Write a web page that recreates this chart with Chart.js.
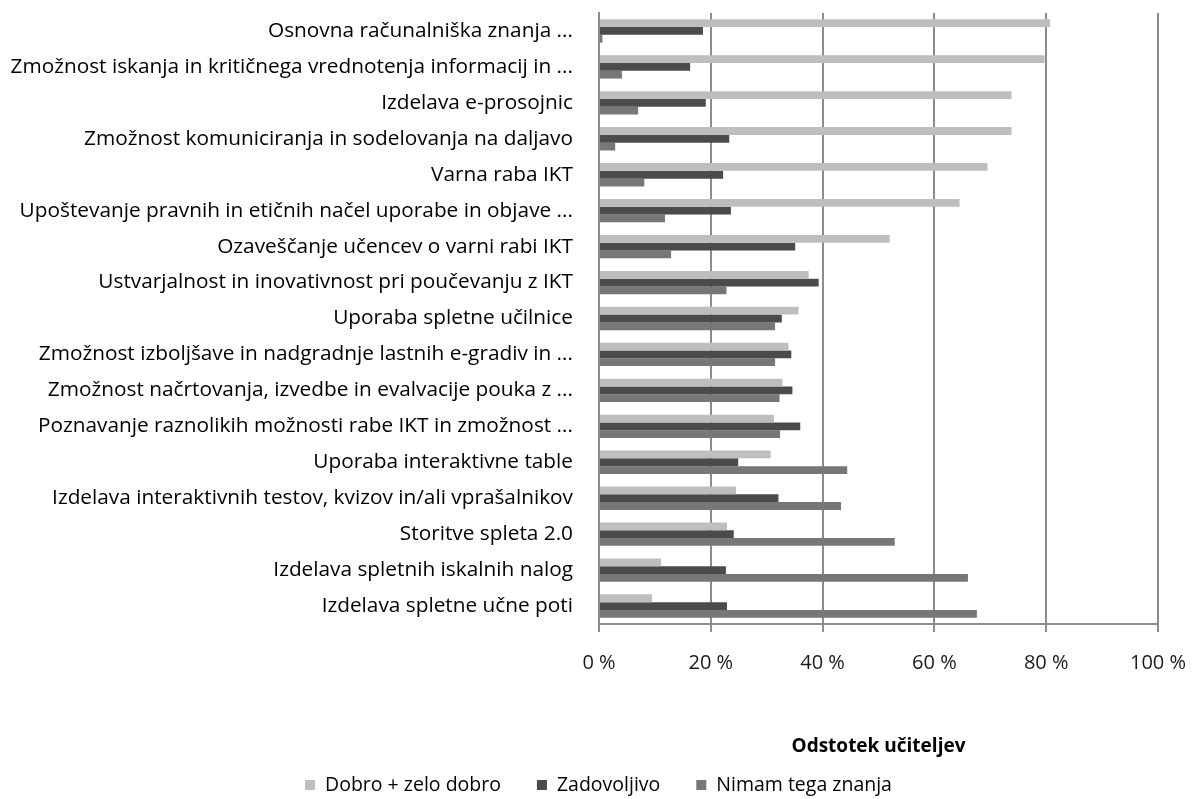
<!DOCTYPE html>
<html>
<head>
<meta charset="utf-8">
<script src="https://cdn.jsdelivr.net/npm/chart.js@4/dist/chart.umd.min.js"></script>
<style>
  html, body { margin: 0; padding: 0; background: #fff; }
  #wrap { width: 1197px; height: 799px; }
</style>
</head>
<body>
<div id="wrap"><canvas id="chart"></canvas></div>
<script>
// kategorije (od zgoraj navzdol)
const categories = [
  'Osnovna računalniška znanja ...',
  'Zmožnost iskanja in kritičnega vrednotenja informacij in ...',
  'Izdelava e-prosojnic',
  'Zmožnost komuniciranja in sodelovanja na daljavo',
  'Varna raba IKT',
  'Upoštevanje pravnih in etičnih načel uporabe in objave ...',
  'Ozaveščanje učencev o varni rabi IKT',
  'Ustvarjalnost in inovativnost pri poučevanju z IKT',
  'Uporaba spletne učilnice',
  'Zmožnost izboljšave in nadgradnje lastnih e-gradiv in ...',
  'Zmožnost načrtovanja, izvedbe in evalvacije pouka z ...',
  'Poznavanje raznolikih možnosti rabe IKT in zmožnost ...',
  'Uporaba interaktivne table',
  'Izdelava interaktivnih testov, kvizov in/ali vprašalnikov',
  'Storitve spleta 2.0',
  'Izdelava spletnih iskalnih nalog',
  'Izdelava spletne učne poti'
];

const seriesNames = ['Dobro + zelo dobro', 'Zadovoljivo', 'Nimam tega znanja'];

// odstotki učiteljev
const dobro = [80.7, 79.7, 73.8, 73.8, 69.5, 64.5, 52.0, 37.5, 35.7, 33.9, 32.8, 31.3, 30.7, 24.5, 22.9, 11.1, 9.5];
const zadovoljivo = [18.6, 16.3, 19.1, 23.3, 22.2, 23.6, 35.1, 39.3, 32.7, 34.4, 34.6, 36.0, 24.9, 32.1, 24.1, 22.7, 22.9];
const nimam = [0.6, 4.1, 7.0, 2.9, 8.1, 11.8, 12.9, 22.8, 31.5, 31.5, 32.3, 32.4, 44.4, 43.3, 52.9, 66.0, 67.6];

const xTicks = [0, 20, 40, 60, 80, 100];

const colors = ['#bebebe', '#4b4b4b', '#777777'];
const gridColor = '#8c8c8c';
const fontFamily = '"Open Sans", "DejaVu Sans", sans-serif';

// legenda v eni vrstici, razmiki kot v Excelu
const rowLegend = {
  id: 'rowLegend',
  afterDraw(chart) {
    const c = chart.ctx;
    const box = 10, gap = 10, itemGap = 36, y = 785;
    c.save();
    c.font = '19.5px ' + fontFamily;
    c.textBaseline = 'middle';
    const items = chart.data.datasets.map(ds => ({
      text: ds.label, color: ds.backgroundColor, w: c.measureText(ds.label).width
    }));
    const total = items.reduce((s, it) => s + box + gap + it.w, 0) + itemGap * (items.length - 1);
    let x = chart.width / 2 - total / 2;
    items.forEach(it => {
      c.fillStyle = it.color;
      c.fillRect(x, y - box / 2, box, box);
      c.fillStyle = '#000';
      c.fillText(it.text, x + box + gap, y);
      x += box + gap + it.w + itemGap;
    });
    c.restore();
  }
};

const ctx = document.getElementById('chart').getContext('2d');
new Chart(ctx, {
  type: 'bar',
  data: {
    labels: categories,
    datasets: [dobro, zadovoljivo, nimam].map((d, i) => ({
      label: seriesNames[i],
      data: d,
      backgroundColor: colors[i],
      borderWidth: 0,
      categoryPercentage: 0.65,
      barPercentage: 1.0
    }))
  },
  options: {
    indexAxis: 'y',
    responsive: true,
    maintainAspectRatio: false,
    animation: false,
    layout: { padding: { top: 13, right: 39, bottom: 34, left: 0 } },
    scales: {
      x: {
        min: 0,
        max: 100,
        afterBuildTicks: (scale) => { scale.ticks = xTicks.map(v => ({ value: v })); },
        afterFit: (scale) => {
          scale.height = 141;
          scale.paddingLeft = 0;
          scale.paddingRight = 0;
        },
        grid: { color: gridColor, lineWidth: 2, tickLength: 8, tickColor: gridColor },
        border: { display: true, color: gridColor, width: 2 },
        ticks: {
          padding: 19,
          color: '#1a1a1a',
          font: { family: fontFamily, size: 20 },
          callback: v => v + ' %'
        },
        title: {
          display: true,
          text: 'Odstotek učiteljev',
          color: '#000',
          font: { family: fontFamily, size: 19, weight: 'bold' },
          padding: { top: 40, bottom: 7 }
        }
      },
      y: {
        grid: { display: false, drawTicks: false },
        border: { display: true, color: gridColor, width: 2 },
        afterFit: (scale) => {
          scale.width = 599;
          scale.paddingTop = 0;
          scale.paddingBottom = 0;
        },
        ticks: {
          padding: 26,
          color: '#000',
          autoSkip: false,
          font: { family: fontFamily, size: 20.8 }
        }
      }
    },
    plugins: {
      legend: { display: false },
      tooltip: { enabled: false }
    }
  },
  plugins: [rowLegend]
});
</script>
</body>
</html>
